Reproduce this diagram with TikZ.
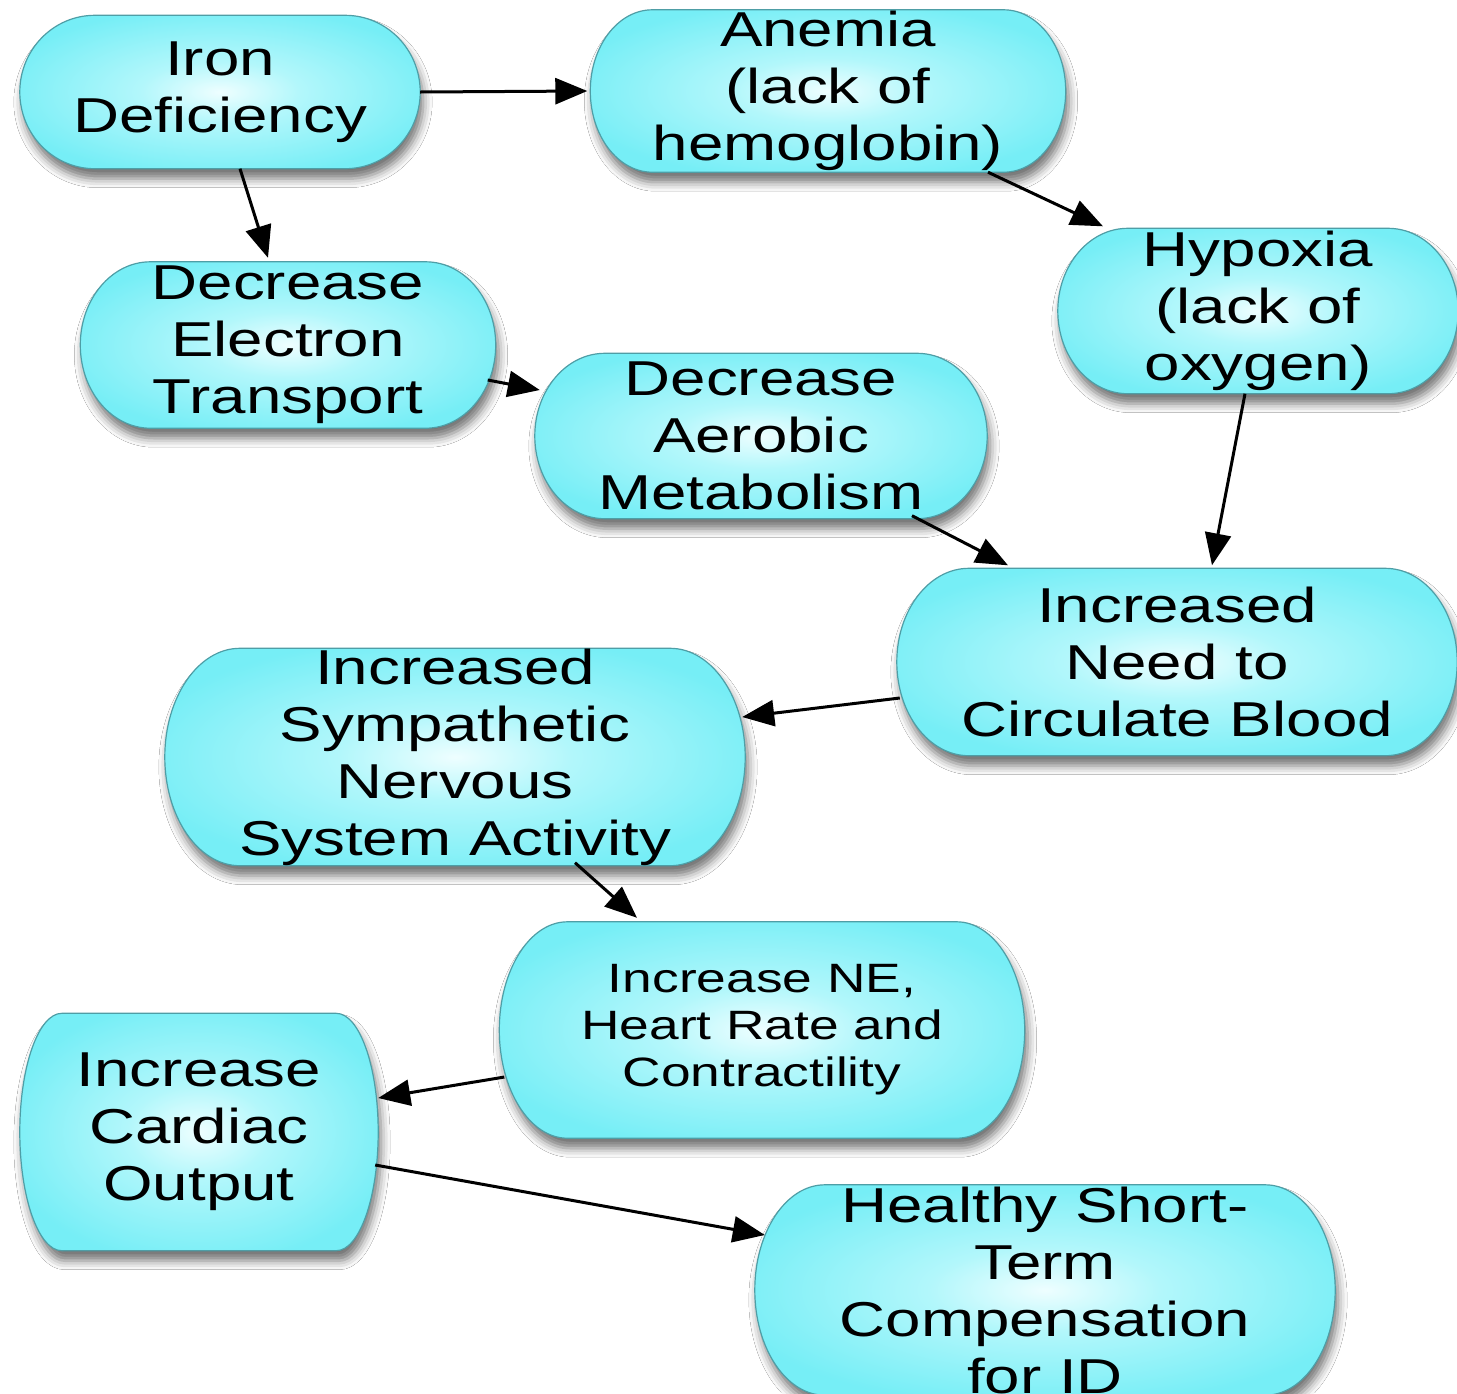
\documentclass[tikz,border=0pt]{standalone}
\usepackage{fontspec}
\setmainfont{Liberation Sans}[FakeStretch=1.3]
\usetikzlibrary{arrows.meta,calc,shadows.blur}
\definecolor{pillin}{RGB}{238,254,255}
\definecolor{pillmid}{RGB}{178,247,251}
\definecolor{pillout}{RGB}{118,238,246}
\definecolor{pillline}{RGB}{78,158,166}
\pgfdeclareradialshading{pillshade}{\pgfpointorigin}{color(0bp)=(pillin); color(10bp)=(pillmid); color(28bp)=(pillout); color(50bp)=(pillout)}
\tikzset{
  pillbox/.style={rectangle, inner sep=0pt, draw=none},
  pillpath/.style={draw=pillline, line width=1.2pt, shading=pillshade,
    blur shadow={shadow xshift=3pt, shadow yshift=-10pt, shadow blur radius=9pt, shadow opacity=55}},
  txt/.style={align=center, font=\fontsize{49}{57}\selectfont, inner sep=0pt, text=black},
  smalltxt/.style={align=center, font=\fontsize{41}{47}\selectfont, inner sep=0pt, text=black},
  arr/.style={line width=3pt, draw=black, -{Triangle[length=32pt,width=26pt]}}
}
% #1 node name, #2 horizontal radius of the end caps
\newcommand\pillshape[2]{%
  \path[pillpath] let \p1=(#1.north west), \p2=(#1.south east), \n1={(\y1-\y2)/2} in
    (\x1+#2pt,\y1) -- (\x2-#2pt,\y1)
    arc[start angle=90, end angle=-90, x radius=#2pt, y radius=\n1]
    -- (\x1+#2pt,\y2)
    arc[start angle=270, end angle=90, x radius=#2pt, y radius=\n1] -- cycle;}
\begin{document}
\begin{tikzpicture}[x=1pt,y=-1pt]
\useasboundingbox (0,0) rectangle (1457,1393);
\clip (0,0) rectangle (1457,1393);
\fill[white] (0,0) rectangle (1457,1393);

% boxes
\node[pillbox, minimum width=400pt, minimum height=153pt] (iron) at (220,92) {};
\pillshape{iron}{75}
\node[txt] (iront) at (iron) {Iron\\Deficiency};

\node[pillbox, minimum width=475pt, minimum height=162pt] (anemia) at (828,91) {};
\pillshape{anemia}{62}
\node[txt] (anemiat) at (anemia) {Anemia\\(lack of\\hemoglobin)};

\node[pillbox, minimum width=415pt, minimum height=166pt] (det) at (288,345) {};
\pillshape{det}{70}
\node[txt] (dett) at (det) {Decrease\\Electron\\Transport};

\node[pillbox, minimum width=400pt, minimum height=165pt] (hyp) at (1258,311) {};
\pillshape{hyp}{70}
\node[txt] (hypt) at (hyp) {Hypoxia\\(lack of\\oxygen)};

\node[pillbox, minimum width=452pt, minimum height=165pt] (dam) at (761,436) {};
\pillshape{dam}{70}
\node[txt] (damt) at (dam) {Decrease\\Aerobic\\Metabolism};

\node[pillbox, minimum width=560pt, minimum height=187pt] (incb) at (1177,662) {};
\pillshape{incb}{72}
\node[txt] (incbt) at (incb) {Increased\\Need to\\Circulate Blood};

\node[pillbox, minimum width=580pt, minimum height=217pt] (isns) at (455,757) {};
\pillshape{isns}{75}
\node[txt] (isnst) at (isns) {Increased\\Sympathetic\\Nervous\\System Activity};

\node[pillbox, minimum width=525pt, minimum height=216pt] (ne) at (762,1030) {};
\pillshape{ne}{68}
\node[smalltxt] (net) at (ne) {Increase NE,\\Heart Rate and\\Contractility};

\node[pillbox, minimum width=358pt, minimum height=237pt] (ico) at (199,1132) {};
\pillshape{ico}{42}
\node[txt] (icot) at (ico) {Increase\\Cardiac\\Output};

\node[pillbox, minimum width=580pt, minimum height=210pt] (hst) at (1045,1290) {};
\pillshape{hst}{70}
\node[txt] (hstt) at (hst) {Healthy Short-\\Term\\Compensation\\for ID};

% arrows
\draw[arr] (iron.east) -- ($(anemia.west)+(-3,0)$);
\draw[arr] ($(iron.south)+(20,0)$) -- ($(det.north)+(-20,-4)$);
\draw[arr] ($(anemia.south)+(160,0)$) -- ($(hyp.north)+(-155,-2)$);
\draw[arr] ($(det.east)+(-8,35)$) -- ($(dam.west)+(5,-46)$);
\draw[arr] ($(hyp.south)+(-13,0)$) -- ($(incb.north)+(35,-3)$);
\draw[arr] ($(dam.south)+(151,-3)$) -- ($(incb.north)+(-169,-3)$);
\draw[arr] ($(incb.west)+(3,36)$) -- ($(isns.east)+(-3,-40)$);
\draw[arr] ($(isns.south)+(120,-3)$) -- ($(ne.north)+(-125,-4)$);
\draw[arr] ($(ne.west)+(5,47)$) -- ($(ico.east)+(0,-34)$);
\draw[arr] ($(ico.east)+(-3,33)$) -- ($(hst.west)+(10,-55)$);
\end{tikzpicture}
\end{document}
